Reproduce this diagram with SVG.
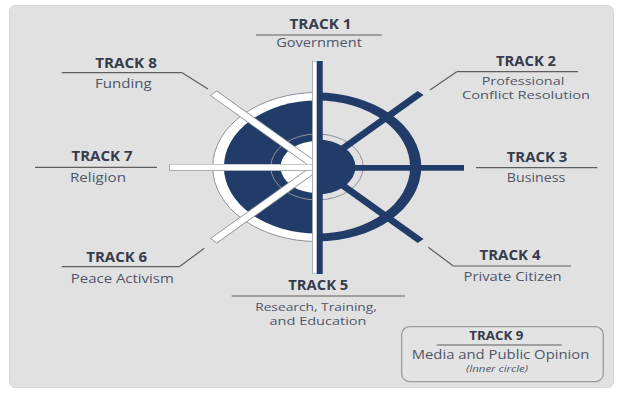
<svg xmlns="http://www.w3.org/2000/svg" width="623" height="395" viewBox="0 0 623 395">
<style>
.h{font-family:"Open Sans","Liberation Sans",sans-serif;font-weight:700;font-size:13.5px;fill:#363c4c;text-anchor:middle}
.d{font-family:"Open Sans","Liberation Sans",sans-serif;font-weight:400;font-size:12.5px;fill:#505669;text-anchor:middle}
.d2{font-family:"Open Sans","Liberation Sans",sans-serif;font-weight:400;font-size:11.5px;fill:#505669;text-anchor:middle}
.i{font-family:"Open Sans","Liberation Sans",sans-serif;font-style:italic;font-size:9px;fill:#505669;text-anchor:middle}
.u{stroke:#5e5e5e;stroke-width:1.2;fill:none}
.nv{fill:#223c69}
.gr{stroke:#8e929c;stroke-width:1;fill:none}
</style>
<rect x="0" y="0" width="623" height="395" fill="#ffffff"/>
<rect x="9.5" y="5.5" width="604" height="382" rx="6" fill="#e1e1e1" stroke="#d6d6d6" stroke-width="1"/>

<g id="wheel" transform="translate(317,167) scale(1.4,1)">
  <path d="M0,-74.5 A74.5,74.5 0 0 0 0,74.5 Z" fill="#ffffff" stroke="#8e929c" stroke-width="1" vector-effect="non-scaling-stroke"/>
  <path d="M0,-66.5 A66.5,66.5 0 0 0 0,66.5 Z" class="nv"/>
  <path d="M0,-26 A26,26 0 0 0 0,26 Z" fill="#ffffff"/>
  <path d="M0,-74.5 A74.5,74.5 0 0 1 0,74.5 L0,66.5 A66.5,66.5 0 0 0 0,-66.5 Z" class="nv"/>
  <path d="M0,-27.5 A27.5,27.5 0 0 1 0,27.5 Z" class="nv"/>
  <circle cx="0" cy="0" r="33" class="gr" vector-effect="non-scaling-stroke"/>
  <g stroke-linecap="butt">
    <line x1="0" y1="0" x2="-74" y2="-74" stroke="#8e929c" stroke-width="7"/>
    <line x1="0" y1="0" x2="-73.6" y2="-73.6" stroke="#ffffff" stroke-width="5.6"/>
    <line x1="0" y1="0" x2="-74" y2="74" stroke="#8e929c" stroke-width="7"/>
    <line x1="0" y1="0" x2="-73.6" y2="73.6" stroke="#ffffff" stroke-width="5.6"/>
    <line x1="0" y1="0" x2="74" y2="-74" stroke="#223c69" stroke-width="6"/>
    <line x1="0" y1="0" x2="74" y2="74" stroke="#223c69" stroke-width="6"/>
    <line x1="0" y1="0.4" x2="-105.5" y2="0.4" stroke="#8e929c" stroke-width="7"/>
    <line x1="0" y1="0.4" x2="-105" y2="0.4" stroke="#ffffff" stroke-width="5.6"/>
    <line x1="0" y1="0.9" x2="105" y2="0.9" stroke="#223c69" stroke-width="5.8"/>
    <line x1="-1.7" y1="-106" x2="-1.7" y2="107" stroke="#8e929c" stroke-width="3.6"/>
    <line x1="-1.7" y1="-105.4" x2="-1.7" y2="106.4" stroke="#ffffff" stroke-width="2.6"/>
    <line x1="2.05" y1="-106" x2="2.05" y2="107" stroke="#223c69" stroke-width="4.1"/>
  </g>
</g>

<g id="connectors">
  <line class="u" x1="181.7" y1="72.6" x2="208" y2="89"/>
  <line class="u" x1="456.7" y1="71.7" x2="430" y2="90"/>
  <line class="u" x1="179.3" y1="266.7" x2="204.3" y2="248.3"/>
  <line class="u" x1="453.3" y1="266" x2="428.3" y2="247.3"/>
</g>

<g id="track1">
  <text class="h" x="320.5" y="29" textLength="62" lengthAdjust="spacingAndGlyphs">TRACK 1</text>
  <line class="u" x1="256" y1="35" x2="381.7" y2="35"/>
  <text class="d" x="319" y="46.7" textLength="85.7" lengthAdjust="spacingAndGlyphs">Government</text>
</g>
<g id="track2">
  <text class="h" x="526" y="66" textLength="60" lengthAdjust="spacingAndGlyphs">TRACK 2</text>
  <line class="u" x1="456.7" y1="71.7" x2="578" y2="71.7"/>
  <text class="d2" x="523" y="85" textLength="82.7" lengthAdjust="spacingAndGlyphs">Professional</text>
  <text class="d2" x="526" y="99" textLength="128" lengthAdjust="spacingAndGlyphs">Conflict Resolution</text>
</g>
<g id="track3">
  <text class="h" x="537" y="161.7" textLength="60.7" lengthAdjust="spacingAndGlyphs">TRACK 3</text>
  <line class="u" x1="476" y1="167.7" x2="597.3" y2="167.7"/>
  <text class="d" x="536" y="181.7" textLength="58.3" lengthAdjust="spacingAndGlyphs">Business</text>
</g>
<g id="track4">
  <text class="h" x="510" y="260" textLength="61" lengthAdjust="spacingAndGlyphs">TRACK 4</text>
  <line class="u" x1="453.3" y1="266" x2="571" y2="266"/>
  <text class="d" x="512.5" y="280.7" textLength="98" lengthAdjust="spacingAndGlyphs">Private Citizen</text>
</g>
<g id="track5">
  <text class="h" x="318.3" y="290" textLength="60" lengthAdjust="spacingAndGlyphs">TRACK 5</text>
  <line class="u" x1="231.7" y1="296" x2="405" y2="296"/>
  <text class="d2" x="316" y="310.7" textLength="121.7" lengthAdjust="spacingAndGlyphs">Research, Training,</text>
  <text class="d2" x="318" y="325" textLength="97" lengthAdjust="spacingAndGlyphs">and Education</text>
</g>
<g id="track6">
  <text class="h" x="116.7" y="262.3" textLength="61" lengthAdjust="spacingAndGlyphs">TRACK 6</text>
  <line class="u" x1="61.7" y1="266.7" x2="179.3" y2="266.7"/>
  <text class="d" x="122.3" y="282.7" textLength="103" lengthAdjust="spacingAndGlyphs">Peace Activism</text>
</g>
<g id="track7">
  <text class="h" x="102" y="160.7" textLength="61" lengthAdjust="spacingAndGlyphs">TRACK 7</text>
  <line class="u" x1="35" y1="167.3" x2="157" y2="167.3"/>
  <text class="d" x="98" y="182.3" textLength="56" lengthAdjust="spacingAndGlyphs">Religion</text>
</g>
<g id="track8">
  <text class="h" x="126" y="67.7" textLength="61.7" lengthAdjust="spacingAndGlyphs">TRACK 8</text>
  <line class="u" x1="61.7" y1="72.6" x2="181.7" y2="72.6"/>
  <text class="d" x="123.3" y="87.7" textLength="56.7" lengthAdjust="spacingAndGlyphs">Funding</text>
</g>
<g id="track9">
  <rect x="401.7" y="326.7" width="201.6" height="55" rx="8" fill="#e3e3e3" stroke="#9a9a9a" stroke-width="1.3"/>
  <text class="h" x="496.3" y="340" style="font-size:12.5px" textLength="54" lengthAdjust="spacingAndGlyphs">TRACK 9</text>
  <line class="u" x1="436.7" y1="345" x2="561.7" y2="345" stroke-width="1.5"/>
  <text class="d" x="500.5" y="359" style="font-size:12.5px" textLength="177.7" lengthAdjust="spacingAndGlyphs">Media and Public Opinion</text>
  <text class="i" x="497" y="371.7" textLength="62" lengthAdjust="spacingAndGlyphs">(Inner circle)</text>
</g>
</svg>
